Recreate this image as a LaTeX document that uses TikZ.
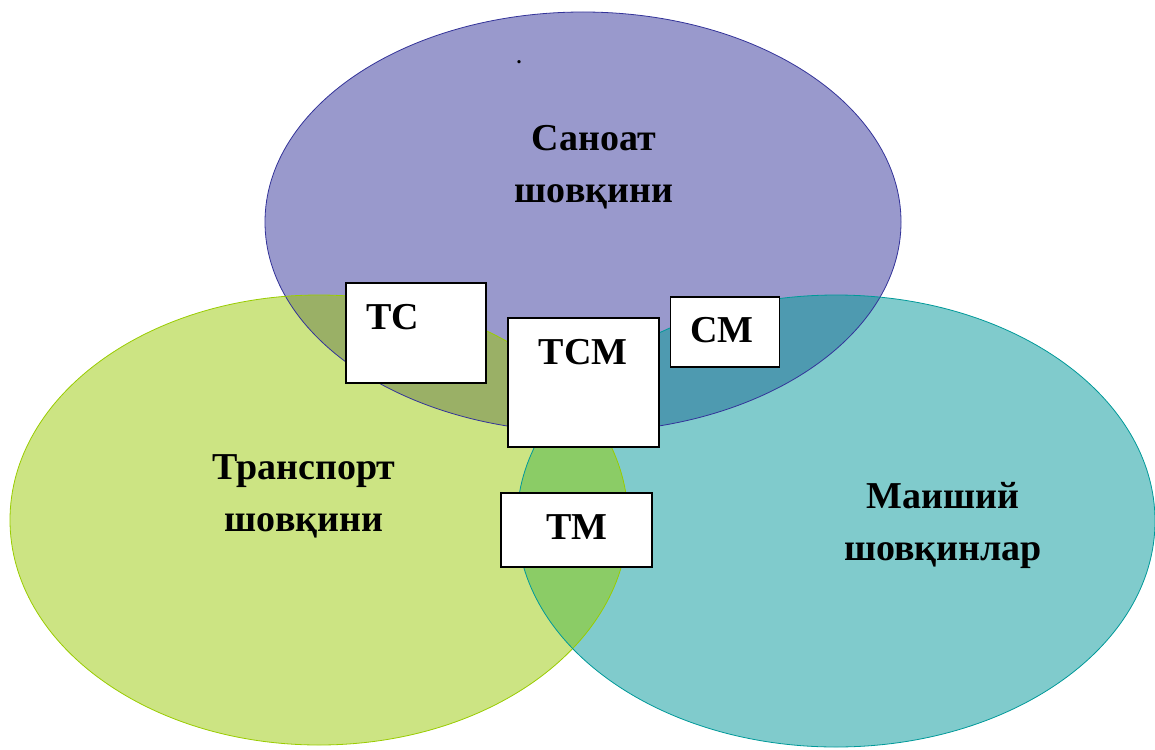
\documentclass[tikz,border=0pt]{standalone}
\usepackage{fontspec}
\setmainfont{Liberation Serif}
\definecolor{Pfill}{RGB}{153,153,204}
\definecolor{Pline}{RGB}{51,51,153}
\definecolor{Gfill}{RGB}{204,228,131}
\definecolor{Gline}{RGB}{153,204,0}
\definecolor{Tfill}{RGB}{128,203,204}
\definecolor{Tline}{RGB}{0,153,153}
\definecolor{PGfill}{RGB}{154,176,102}
\definecolor{PTfill}{RGB}{78,154,176}
\definecolor{GTfill}{RGB}{139,204,102}
\definecolor{PGTfill}{RGB}{110,160,110}
\tikzset{
  box/.style={draw=black, line width=1.6pt, fill=white, rectangle, inner sep=0pt},
  lbl/.style={font=\fontsize{38}{52}\selectfont\bfseries, align=center, inner sep=0pt},
}
\newcommand{\Pshape}{(583,222) ellipse [x radius=318pt, y radius=210pt]}
\newcommand{\Gshape}{(319,520) ellipse [x radius=309pt, y radius=225pt]}
\newcommand{\Tshape}{(836,521) ellipse [x radius=319pt, y radius=226pt]}
\begin{document}
\begin{tikzpicture}[x=1pt,y=-1pt]
\useasboundingbox (0,0) rectangle (1155,749);
% base fills
\fill[Pfill] \Pshape;
\fill[Gfill] \Gshape;
\fill[Tfill] \Tshape;
% overlaps
\begin{scope}\clip \Pshape; \fill[PGfill] \Gshape; \end{scope}
\begin{scope}\clip \Pshape; \fill[PTfill] \Tshape; \end{scope}
\begin{scope}\clip \Gshape; \fill[GTfill] \Tshape; \end{scope}
\begin{scope}\clip \Pshape; \clip \Gshape; \fill[PGTfill] \Tshape; \end{scope}
% outlines
\draw[Pline, line width=0.8pt] \Pshape;
\draw[Gline, line width=0.8pt] \Gshape;
\draw[Tline, line width=0.8pt] \Tshape;
% circle labels
\node[font=\fontsize{20}{24}\selectfont\bfseries, anchor=base, inner sep=0pt] (dot) at (519,64) {.};
\node[lbl] (san) at (594,167) {Саноат\\шовқини};
\node[lbl] (tra) at (304,496) {Транспорт\\шовқини};
\node[lbl] (mai) at (943,525) {Маиший\\шовқинлар};
% boxes
\node[box, minimum width=140pt, minimum height=100pt] (tc) at (416,333) {};
\node[lbl] (tctext) at (393,317) {ТС};
\node[box, minimum width=151pt, minimum height=129pt] (tcm) at (583.5,382.5) {};
\node[lbl] (tcmtext) at (583,352) {ТСМ};
\node[box, minimum width=109pt, minimum height=70pt] (cm) at (725,332) {};
\node[lbl] (cmtext) at (722,330) {СМ};
\node[box, minimum width=151pt, minimum height=74pt] (tm) at (576.5,530) {};
\node[lbl] (tmtext) at (577,527) {ТМ};
\end{tikzpicture}
\end{document}
